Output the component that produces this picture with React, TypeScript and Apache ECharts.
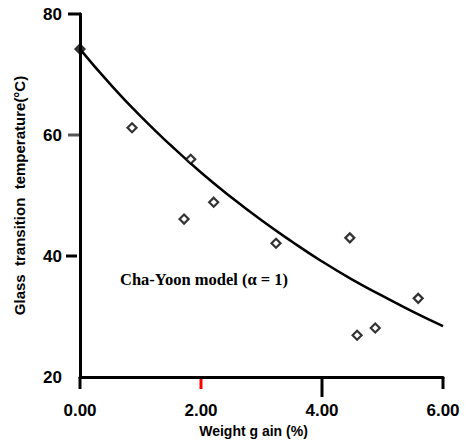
import React, { useEffect, useRef } from "react";
import * as echarts from "echarts";

const measuredX = [0.86, 1.72, 1.83, 2.21, 3.24, 4.46, 4.58, 4.88, 5.59];
const measuredY = [61.2, 46.1, 56.0, 48.9, 42.1, 43.0, 26.9, 28.1, 33.0];
const startPoint = [0, 74.2];
const modelX = [0, 0.5, 1, 1.5, 2, 2.5, 3, 3.5, 4, 4.5, 5, 5.5, 6];
const modelY = [74.2, 68.4, 63.1, 58.3, 53.8, 49.7, 45.9, 42.4, 39.1, 36.1, 33.4, 30.8, 28.4];
const xTicks = { min: 0, max: 6, interval: 2 };
const yTicks = { min: 20, max: 80, interval: 20 };

export default function App() {
  const ref = useRef<HTMLDivElement>(null);
  useEffect(() => {
    if (!ref.current) return;
    const chart = echarts.init(ref.current, null, { renderer: "svg" });
    const axisFont = "'Liberation Sans', Arial, sans-serif";

    chart.setOption({
      animation: false,
      backgroundColor: "#ffffff",
      grid: { left: 80, top: 14, width: 363, height: 363, outerBoundsMode: "none", containLabel: false },
      xAxis: {
        type: "value",
        min: xTicks.min,
        max: xTicks.max,
        interval: xTicks.interval,
        name: "Weight g ain (%)",
        nameLocation: "middle",
        nameGap: 41,
        nameTextStyle: { color: "#000", fontFamily: axisFont, fontWeight: "bold", fontSize: 14, padding: [0, 16, 0, 0] },
        axisLine: { show: true, onZero: false, lineStyle: { color: "#000", width: 3 } },
        axisTick: { show: false },
        splitLine: { show: false },
        axisLabel: { color: "#000", fontFamily: axisFont, fontWeight: "bold", fontSize: 17, margin: 25, formatter: (v: number) => v.toFixed(2) },
      },
      yAxis: {
        type: "value",
        min: yTicks.min,
        max: yTicks.max,
        interval: yTicks.interval,
        name: "Glass  transition  temperature(°C)",
        nameLocation: "middle",
        nameRotate: 90,
        nameGap: 53,
        nameTextStyle: { color: "#000", fontFamily: axisFont, fontWeight: "bold", fontSize: 15 },
        axisLine: { show: true, onZero: false, lineStyle: { color: "#000", width: 3 } },
        axisTick: { show: false },
        splitLine: { show: false },
        axisLabel: { color: "#000", fontFamily: axisFont, fontWeight: "bold", fontSize: 17, margin: 18 },
      },
      series: [
        { type: "line", data: modelX.map((x, i) => [x, modelY[i]]), smooth: true, showSymbol: false, lineStyle: { color: "#000", width: 2.5 }, z: 2 },
        { type: "scatter", data: measuredX.map((x, i) => [x, measuredY[i]]), symbol: "diamond", symbolSize: 9, itemStyle: { color: "#fff", borderColor: "#000", borderWidth: 2.2 }, z: 3 },
        { type: "scatter", data: [startPoint], symbol: "diamond", symbolSize: 11, itemStyle: { color: "#000", borderColor: "#000", borderWidth: 1 }, z: 4 },
      ],
    });

    const px = (x: number, y: number) => chart.convertToPixel({ gridIndex: 0 } as any, [x, y]) as number[];
    const p0 = px(0, 20), p2 = px(2, 20), p4 = px(4, 20), p6 = px(6, 20);
    const q80 = px(0, 80), q60 = px(0, 60), q40 = px(0, 40);
    chart.setOption({
      graphic: [
        { type: "line", shape: { x1: p0[0], y1: p0[1], x2: p0[0], y2: p0[1] + 12 }, style: { stroke: "#000", lineWidth: 3 } },
        { type: "line", shape: { x1: p2[0], y1: p2[1], x2: p2[0], y2: p2[1] + 12 }, style: { stroke: "#f00", lineWidth: 3 } },
        { type: "line", shape: { x1: p4[0], y1: p4[1], x2: p4[0], y2: p4[1] + 20 }, style: { stroke: "#000", lineWidth: 3 } },
        { type: "rect", shape: { x: p6[0] - 1.5, y: p6[1], width: 3, height: 12 }, style: { fill: "#000" } },
        { type: "line", shape: { x1: q80[0] - 12, y1: q80[1], x2: q80[0] + 1, y2: q80[1] }, style: { stroke: "#000", lineWidth: 3 } },
        { type: "line", shape: { x1: q60[0] - 12, y1: q60[1], x2: q60[0], y2: q60[1] }, style: { stroke: "#555", lineWidth: 3 } },
        { type: "line", shape: { x1: q40[0] - 14, y1: q40[1], x2: q40[0] - 3, y2: q40[1] }, style: { stroke: "#000", lineWidth: 3 } },
        {
          type: "text",
          left: 120,
          top: 271,
          style: { text: "Cha-Yoon model (α = 1)", fill: "#000", font: "bold 16.5px 'Liberation Serif', 'Times New Roman', serif" },
        },
      ],
    });
    return () => chart.dispose();
  }, []);
  return <div ref={ref} style={{ position: "fixed", left: 0, top: 0, width: 466, height: 440 }} />;
}
